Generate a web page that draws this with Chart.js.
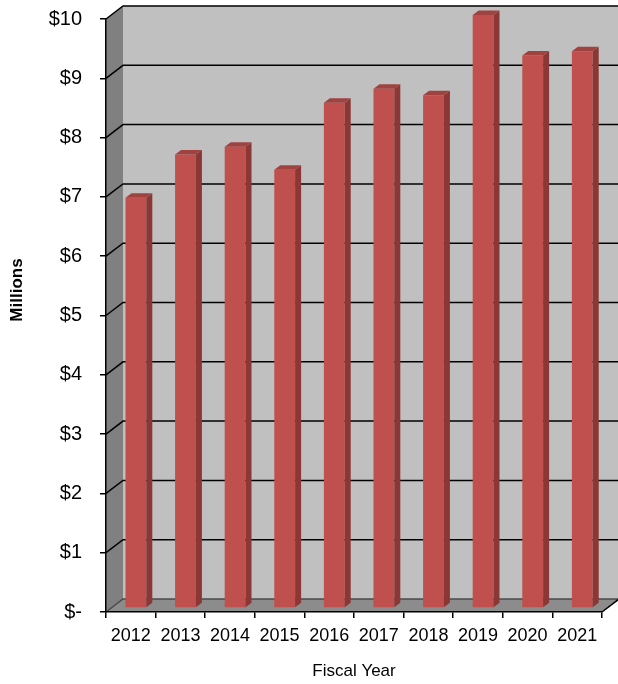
<!DOCTYPE html>
<html>
<head>
<meta charset="utf-8">
<script src="https://cdn.jsdelivr.net/npm/chart.js@4.4.0/dist/chart.umd.min.js"></script>
<style>
  html, body { margin: 0; padding: 0; background: #fff; }
  #wrap { position: relative; width: 618px; height: 684px; }
</style>
</head>
<body>
<div id="wrap"><canvas id="fundChart"></canvas></div>
<script>
var years = ['2012', '2013', '2014', '2015', '2016', '2017', '2018', '2019', '2020', '2021'];
var millions = [6.92, 7.65, 7.78, 7.39, 8.52, 8.76, 8.65, 10.0, 9.32, 9.39];
var axisMax = 10;

var FONT = '"Liberation Sans", Arial, sans-serif';

// box depth (back wall offset) and bar depth, in px
var depth = { x: 17, y: -13 };
var barDepth = { x: 6, y: -4.5 };
var barShift = 0.3; // bars stand this far back into the box

var backWall = '#c0c0c0', leftWall = '#808080', floorColor = '#8c8c8c';
var barFront = '#c0504d', barSide = '#8a3735', barTop = '#9f4240';

function poly(ctx, pts, fill) {
  ctx.beginPath();
  ctx.moveTo(pts[0][0], pts[0][1]);
  for (var i = 1; i < pts.length; i++) ctx.lineTo(pts[i][0], pts[i][1]);
  ctx.closePath();
  ctx.fillStyle = fill;
  ctx.fill();
}

var box3d = {
  id: 'box3d',
  beforeDraw: function(chart) {
    var ctx = chart.ctx, a = chart.chartArea, y = chart.scales.y;
    var L = a.left, R = a.right, T = a.top, B = a.bottom;
    var dx = depth.x, dy = depth.y;
    ctx.save();
    poly(ctx, [[L + dx, T + dy], [R + dx, T + dy], [R + dx, B + dy], [L + dx, B + dy]], backWall);
    poly(ctx, [[L, T], [L + dx, T + dy], [L + dx, B + dy], [L, B]], leftWall);
    poly(ctx, [[L, B], [L + dx, B + dy], [R + dx, B + dy], [R, B]], floorColor);

    // gridlines run across the left wall and the back wall
    ctx.lineWidth = 1.5;
    y.ticks.forEach(function(t) {
      var py = y.getPixelForValue(t.value);
      ctx.strokeStyle = t.value === 0 ? '#4a4a4a' : '#000';
      ctx.beginPath();
      ctx.moveTo(L, py);
      ctx.lineTo(L + dx, py + dy);
      ctx.lineTo(R + dx, py + dy);
      ctx.stroke();
    });
    // right edge of the floor
    ctx.strokeStyle = '#000';
    ctx.beginPath();
    ctx.moveTo(R, B);
    ctx.lineTo(R + dx, B + dy);
    ctx.stroke();
    ctx.restore();
  },
  beforeDatasetsDraw: function(chart) {
    chart.ctx.save();
    chart.ctx.translate(depth.x * barShift, depth.y * barShift);
  },
  afterDatasetsDraw: function(chart) {
    var ctx = chart.ctx;
    var bx = barDepth.x, by = barDepth.y;
    chart.getDatasetMeta(0).data.forEach(function(bar) {
      var l = bar.x - bar.width / 2, r = bar.x + bar.width / 2;
      poly(ctx, [[r, bar.y], [r + bx, bar.y + by], [r + bx, bar.base + by], [r, bar.base]], barSide);
      poly(ctx, [[l, bar.y], [l + bx, bar.y + by], [r + bx, bar.y + by], [r, bar.y]], barTop);
    });
    ctx.restore();
  },
  afterDraw: function(chart) {
    var ctx = chart.ctx;
    ctx.save();
    ctx.translate(17, 290);
    ctx.rotate(-Math.PI / 2);
    ctx.font = 'bold 17px ' + FONT;
    ctx.fillStyle = '#000';
    ctx.textAlign = 'center';
    ctx.textBaseline = 'middle';
    ctx.fillText('Millions', 0, 0);
    ctx.restore();
  }
};

new Chart(document.getElementById('fundChart'), {
  type: 'bar',
  data: {
    labels: years,
    datasets: [{
      data: millions,
      backgroundColor: barFront,
      borderWidth: 0,
      categoryPercentage: 1,
      barPercentage: 0.42,
      clip: false
    }]
  },
  options: {
    responsive: true,
    maintainAspectRatio: false,
    animation: false,
    layout: { padding: { top: 19, right: 16, left: 0, bottom: 0 } },
    plugins: { legend: { display: false }, tooltip: { enabled: false } },
    scales: {
      x: {
        grid: { offset: true, drawOnChartArea: false, tickLength: 6, color: '#000', lineWidth: 1.5 },
        border: { display: true, color: '#000', width: 1.5 },
        ticks: { color: '#000', font: { family: FONT, size: 18 }, padding: 7, maxRotation: 0 },
        title: { display: true, text: 'Fiscal Year', color: '#000', font: { family: FONT, size: 17 }, padding: { top: 0, bottom: 2 } },
        afterFit: function(s) { s.height = 72; }
      },
      y: {
        min: 0,
        max: axisMax,
        grid: { drawOnChartArea: false, tickLength: 6, color: '#000', lineWidth: 1.5 },
        border: { display: true, color: '#000', width: 1.5 },
        ticks: {
          stepSize: 1,
          color: '#000',
          padding: 18,
          font: { family: FONT, size: 20 },
          callback: function(v) { return v === 0 ? '$-' : '$' + v; }
        },
        afterFit: function(s) {
          s.width = 106;
          s.paddingTop = 0;
          s.paddingBottom = 0;
        }
      }
    }
  },
  plugins: [box3d]
});
</script>
</body>
</html>
